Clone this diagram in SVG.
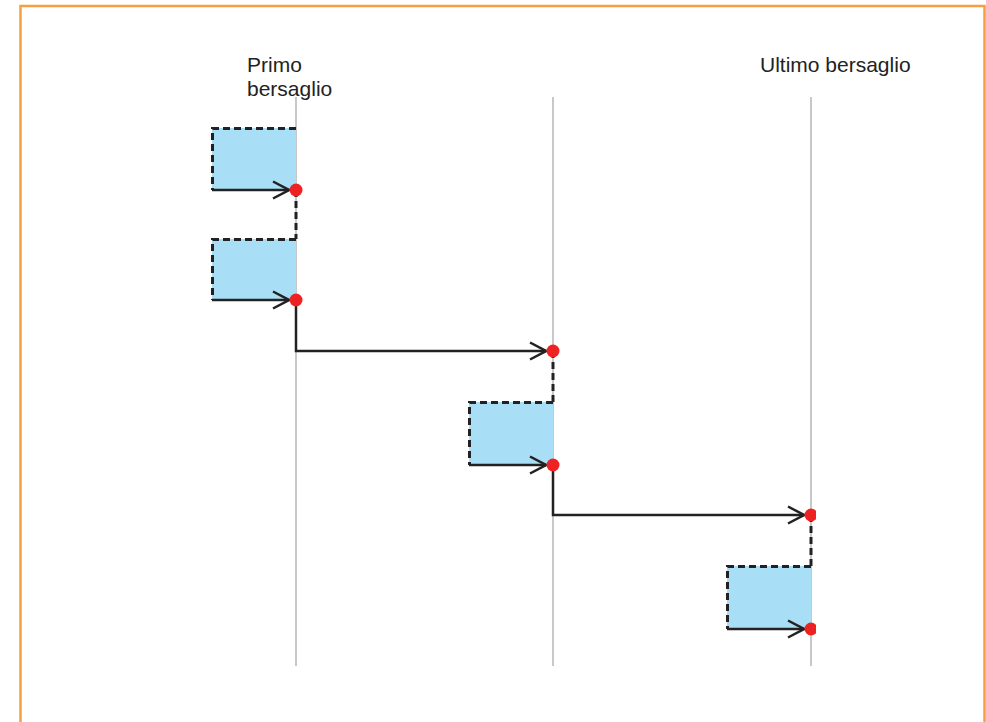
<svg xmlns="http://www.w3.org/2000/svg" width="986" height="722" viewBox="0 0 986 722">
<defs>
<style>
.frame{fill:none;stroke:#f5a040;stroke-width:2.5}
.guide{stroke:#c8c8c8;stroke-width:2;fill:none}
.box{fill:#a9def7;stroke:none}
.dash{fill:none;stroke:#222;stroke-width:3;stroke-dasharray:7 4}
.conn{fill:none;stroke:#222;stroke-width:2.5}
.dot{fill:#ee2222}
.lbl{font-family:"Liberation Sans",Arial,sans-serif;font-size:21px;fill:#222}
</style>
<marker id="arr" viewBox="0 0 18 20" refX="17" refY="10" markerWidth="18" markerHeight="20" markerUnits="userSpaceOnUse" orient="auto">
<path d="M1,1.5 L17,10 L1,18.5" fill="none" stroke="#222" stroke-width="2.5"/>
</marker>
<clipPath id="clipR"><rect x="0" y="0" width="816" height="722"/></clipPath>
</defs>
<rect width="986" height="722" fill="#fff"/>
<path class="frame" d="M20.5,725 V6 H984.5 V725"/>
<g id="guides">
<line class="guide" x1="296" y1="97" x2="296" y2="666"/>
<line class="guide" x1="553" y1="97" x2="553" y2="666"/>
<line class="guide" x1="811" y1="97" x2="811" y2="666"/>
</g>
<g id="labels">
<text class="lbl" x="247" y="72">Primo</text>
<text class="lbl" x="247" y="96">bersaglio</text>
<text class="lbl" x="760" y="72">Ultimo bersaglio</text>
</g>
<g id="box1">
<rect class="box" x="212" y="128" width="84" height="62"/>
<path class="dash" d="M296,128.5 H212.5 V190"/>
</g>
<g id="box2">
<rect class="box" x="212" y="239" width="84" height="61"/>
<path class="dash" d="M296,239.5 H212.5 V300"/>
</g>
<g id="box3">
<rect class="box" x="469" y="402" width="84" height="63"/>
<path class="dash" d="M553,402.5 H469.5 V465"/>
</g>
<g id="box4">
<rect class="box" x="727" y="566" width="84" height="63"/>
<path class="dash" d="M811,566.5 H727.5 V629"/>
</g>
<g id="connectors">
<line class="conn" x1="212" y1="190" x2="289" y2="190" marker-end="url(#arr)"/>
<line class="dash" x1="296" y1="190" x2="296" y2="239"/>
<line class="conn" x1="212" y1="300" x2="289" y2="300" marker-end="url(#arr)"/>
<path class="conn" d="M296,300 V351 H546" marker-end="url(#arr)"/>
<line class="dash" x1="553" y1="351" x2="553" y2="402"/>
<line class="conn" x1="469" y1="465" x2="546" y2="465" marker-end="url(#arr)"/>
<path class="conn" d="M553,465 V515 H804" marker-end="url(#arr)"/>
<line class="dash" x1="811" y1="515" x2="811" y2="566"/>
<line class="conn" x1="727" y1="629" x2="804" y2="629" marker-end="url(#arr)"/>
</g>
<g id="dots">
<circle class="dot" cx="296" cy="190" r="6.5"/>
<circle class="dot" cx="296" cy="300" r="6.5"/>
<circle class="dot" cx="553" cy="351" r="6.5"/>
<circle class="dot" cx="553" cy="465" r="6.5"/>
<g clip-path="url(#clipR)">
<circle class="dot" cx="811" cy="515" r="6.5"/>
<circle class="dot" cx="811" cy="629" r="6.5"/>
</g>
</g>
</svg>
